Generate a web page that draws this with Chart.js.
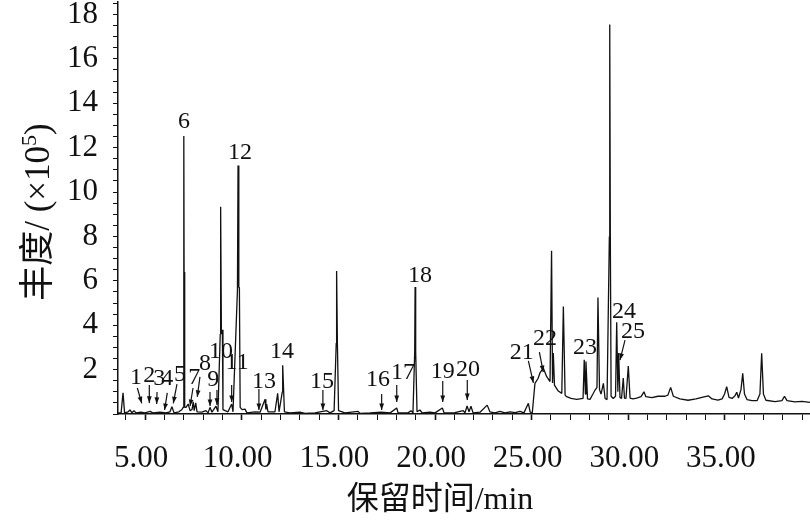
<!DOCTYPE html>
<html lang="zh-CN">
<head>
<meta charset="UTF-8">
<title>总离子流色谱图</title>
<script src="https://cdn.jsdelivr.net/npm/chart.js"></script>
<style>
  body { margin: 0; background: #fff; }
  #wrap { width: 810px; height: 529px; }
</style>
</head>
<body>
<div id="wrap"><canvas id="tic" width="810" height="529"></canvas></div>
<script>
// 保留时间 (min) 与丰度 (×10^5)，从原图逐点读取
const retTime = [
  3.60, 3.76, 3.86, 3.94, 4.12, 4.22, 4.32, 4.43, 4.53, 4.79, 5.00, 5.26, 5.40, 5.77, 6.08, 6.29, 6.39, 6.50,
  6.75, 6.91, 6.97, 7.00, 7.01, 7.02, 7.05, 7.12, 7.23, 7.33, 7.43, 7.49, 7.54, 7.62, 7.69, 7.94, 8.15, 8.26,
  8.36, 8.46, 8.67, 8.77, 8.89, 8.91, 8.95, 9.00, 9.03, 9.14, 9.29, 9.48, 9.55, 9.78, 9.81, 9.85, 9.88, 9.92,
  10.02, 10.17, 10.27, 10.68, 10.95, 11.21, 11.25, 11.29, 11.36, 11.72, 11.86, 11.93, 12.10, 12.12, 12.21,
  12.50, 13.01, 13.27, 13.79, 14.05, 14.40, 14.57, 14.78, 14.89, 14.91, 14.95, 15.01, 15.34, 16.02, 16.12,
  16.64, 17.21, 17.68, 18.02, 18.09, 18.60, 18.76, 18.86, 18.95, 18.97, 19.00, 19.07, 19.22, 19.33, 19.74,
  20.00, 20.38, 20.47, 21.03, 21.46, 21.55, 21.66, 21.76, 21.86, 21.97, 22.33, 22.70, 22.84, 23.10, 23.36,
  23.62, 23.88, 24.15, 24.40, 24.60, 24.83, 24.92, 25.03, 25.17, 25.33, 25.43, 25.60, 25.78, 25.95, 26.03,
  26.08, 26.12, 26.18, 26.36, 26.56, 26.64, 26.73, 26.81, 27.04, 27.33, 27.66, 27.72, 27.78, 27.81, 27.89,
  28.02, 28.17, 28.28, 28.38, 28.43, 28.51, 28.59, 28.71, 28.80, 28.90, 29.02, 29.04, 29.07, 29.11, 29.22,
  29.34, 29.40, 29.46, 29.50, 29.57, 29.65, 29.74, 29.80, 29.88, 30.00, 30.09, 30.24, 30.43, 30.66, 30.81,
  30.91, 31.22, 31.54, 31.90, 32.05, 32.19, 32.33, 32.67, 33.09, 33.50, 33.81, 34.14, 34.33, 34.64, 34.85,
  34.98, 35.09, 35.21, 35.37, 35.52, 35.61, 35.70, 35.83, 35.92, 36.01, 36.14, 36.40, 36.66, 36.81, 36.90,
  36.99, 37.12, 37.59, 37.95, 38.08, 38.21, 38.62, 38.99, 39.40
];
const abundance = [
  0.05, 0.05, 0.96, 0.05, 0.10, 0.18, 0.06, 0.15, 0.05, 0.08, 0.05, 0.12, 0.05, 0.08, 0.05, 0.10, 0.33, 0.05,
  0.10, 0.20, 0.30, 6.40, 12.52, 6.40, 0.30, 0.30, 0.45, 0.15, 0.20, 0.55, 0.15, 0.50, 0.10, 0.08, 0.15, 0.05,
  0.30, 0.08, 0.35, 0.10, 3.60, 9.34, 3.60, 3.80, 0.20, 0.15, 0.10, 0.45, 0.10, 5.60, 11.20, 5.70, 5.70, 0.30,
  0.20, 0.22, 0.05, 0.10, 0.08, 0.66, 0.20, 0.45, 0.10, 0.10, 0.93, 0.10, 1.00, 2.20, 0.10,
  0.05, 0.08, 0.03, 0.05, 0.10, 0.15, 0.05, 0.15, 3.20, 6.44, 3.20, 0.15, 0.05, 0.12, 0.03,
  0.05, 0.08, 0.05, 0.27, 0.05, 0.05, 0.15, 0.05, 2.80, 5.72, 2.80, 0.10, 0.18, 0.05, 0.08,
  0.05, 0.27, 0.05, 0.06, 0.15, 0.05, 0.36, 0.10, 0.35, 0.05, 0.08, 0.40, 0.10, 0.05, 0.12,
  0.05, 0.10, 0.06, 0.12, 0.05, 0.48, 0.10, 0.02, 1.38, 1.60, 1.85, 2.07, 1.68, 1.46, 7.35,
  1.40, 2.75, 1.30, 1.05, 0.93, 4.84, 0.85, 0.78, 0.70, 0.66, 0.70, 2.44, 0.90, 2.36, 0.68,
  0.66, 0.90, 1.08, 1.20, 5.25, 1.10, 0.90, 1.38, 0.70, 0.65, 8.00, 17.55, 8.00, 0.80, 0.70,
  0.80, 4.13, 1.00, 2.75, 0.75, 0.70, 1.62, 0.72, 0.70, 2.16, 0.72, 0.68, 0.72, 0.78, 1.00,
  0.78, 0.74, 0.80, 0.80, 0.85, 1.20, 0.80, 0.68, 0.62, 0.68, 0.75, 0.82, 0.68, 0.62, 0.68,
  0.90, 1.23, 0.75, 0.70, 0.82, 0.98, 0.72, 1.10, 1.83, 0.90, 0.65, 0.60, 0.60, 0.90, 2.73,
  0.90, 0.62, 0.56, 0.60, 0.80, 0.60, 0.55, 0.57, 0.52
];

// 峰号标注：文字位置与箭头 (时间, 丰度)
const peakNames  = ['1', '2', '3', '4', '5', '6', '7', '8', '9', '10', '11', '12', '13',
                    '14', '15', '16', '17', '18', '19', '20', '21', '22', '23', '24', '25'];
const labelTime  = [4.53, 5.22, 5.74, 6.15, 6.81, 7.01, 7.55, 8.10, 8.53, 8.93, 9.76, 9.91, 11.15,
                    12.08, 14.15, 17.05, 18.34, 19.22, 20.40, 21.71, 24.49, 25.69, 27.76, 29.78, 30.24];
const labelValue = [1.62, 1.71, 1.58, 1.58, 1.76, 13.15, 1.62, 2.25, 1.53, 2.79, 2.30, 11.76, 1.44,
                    2.79, 1.44, 1.53, 1.85, 6.22, 1.91, 1.98, 2.75, 3.38, 2.97, 4.59, 3.69];
// 箭头 [起点时间, 起点丰度, 终点时间, 终点丰度]，null 表示无箭头
const arrows = [
  [4.60, 1.17, 4.83, 0.48], [5.22, 1.31, 5.22, 0.50], [5.62, 0.99, 5.60, 0.45],
  [6.15, 0.95, 6.01, 0.18], [6.65, 1.35, 6.46, 0.48], null,
  [7.48, 1.17, 7.33, 0.36], [7.84, 1.67, 7.70, 0.77], [8.36, 0.99, 8.36, 0.36],
  [8.72, 1.08, 8.72, 0.41], [9.48, 1.31, 9.48, 0.54], null,
  [10.89, 1.13, 10.89, 0.18], null, [14.20, 1.08, 14.20, 0.18],
  [17.24, 0.90, 17.24, 0.18], [18.02, 1.31, 18.02, 0.54], null,
  [20.40, 1.49, 20.40, 0.54], [21.67, 1.53, 21.67, 0.63], [24.83, 2.39, 25.09, 1.40],
  [25.40, 2.79, 25.60, 1.89], null, null, [29.83, 3.33, 29.57, 2.43]
];

const xTickLabels = [5, 10, 15, 20, 25, 30, 35];
const yTickLabels = [2, 4, 6, 8, 10, 12, 14, 16, 18];

const serif = '"Liberation Serif", "Times New Roman", "Noto Sans CJK SC", serif';
const ink = '#111';

const points = retTime.map((t, i) => ({ x: t, y: abundance[i] }));

// 峰号、箭头和坐标轴标题
const peakLabels = {
  id: 'peakLabels',
  afterDatasetsDraw(chart) {
    const ctx = chart.ctx;
    const xs = chart.scales.x, ys = chart.scales.y;
    ctx.save();
    ctx.fillStyle = ink;
    ctx.strokeStyle = ink;
    ctx.font = '24px ' + serif;
    ctx.textAlign = 'center';
    ctx.textBaseline = 'middle';
    peakNames.forEach((name, i) => {
      ctx.fillText(name, xs.getPixelForValue(labelTime[i]), ys.getPixelForValue(labelValue[i]));
      const a = arrows[i];
      if (!a) return;
      const x0 = xs.getPixelForValue(a[0]), y0 = ys.getPixelForValue(a[1]);
      const x1 = xs.getPixelForValue(a[2]), y1 = ys.getPixelForValue(a[3]);
      ctx.lineWidth = 1.2;
      ctx.beginPath();
      ctx.moveTo(x0, y0);
      ctx.lineTo(x1, y1);
      ctx.stroke();
      const ang = Math.atan2(y1 - y0, x1 - x0);
      ctx.beginPath();
      ctx.moveTo(x1, y1);
      ctx.lineTo(x1 - 7 * Math.cos(ang - 0.35), y1 - 7 * Math.sin(ang - 0.35));
      ctx.lineTo(x1 - 7 * Math.cos(ang + 0.35), y1 - 7 * Math.sin(ang + 0.35));
      ctx.closePath();
      ctx.fill();
    });

    // x 轴标题
    ctx.font = '32px ' + serif;
    ctx.fillText('保留时间/min', 440, 501);

    // y 轴标题，上标 5
    ctx.translate(40, 212);
    ctx.rotate(-Math.PI / 2);
    const big = '35px ' + serif, small = '22px ' + serif;
    const parts = [['丰度/ (×10', big, 0], ['5', small, -10], [')', big, 0]];
    let total = 0;
    parts.forEach(p => { ctx.font = p[1]; total += ctx.measureText(p[0]).width; });
    let cx = -total / 2;
    ctx.textAlign = 'left';
    parts.forEach(p => {
      ctx.font = p[1];
      ctx.fillText(p[0], cx, p[2]);
      cx += ctx.measureText(p[0]).width;
    });
    ctx.restore();
  }
};

new Chart(document.getElementById('tic'), {
  type: 'line',
  data: {
    datasets: [{
      data: points,
      borderColor: ink,
      borderWidth: 1.3,
      borderJoinStyle: 'bevel',
      pointRadius: 0,
      tension: 0,
      fill: false
    }]
  },
  options: {
    responsive: false,
    animation: false,
    layout: { padding: { top: 2, right: 0, left: 0, bottom: 0 } },
    plugins: { legend: { display: false }, tooltip: { enabled: false } },
    scales: {
      x: {
        type: 'linear',
        min: 3.6,
        max: 39.4,
        afterFit(scale) {
          scale.height = 115;
          scale.paddingLeft = 0;
          scale.paddingRight = 0;
        },
        border: { display: true, color: ink, width: 1.5 },
        grid: { drawOnChartArea: false, drawTicks: true, tickLength: 6, tickColor: ink,
                tickWidth: ctx => (xTickLabels.includes(ctx.tick.value) ? 1.6 : 1) },
        ticks: {
          stepSize: 1,
          includeBounds: false,
          autoSkip: false,
          maxRotation: 0,
          padding: 20,
          labelOffset: -4,
          color: ink,
          font: { family: serif, size: 31 },
          callback: v => (xTickLabels.includes(v) ? v.toFixed(2) : '')
        }
      },
      y: {
        min: 0,
        max: 18.56,
        afterFit(scale) {
          scale.width = 118;
          scale.paddingTop = 0;
          scale.paddingBottom = 0;
        },
        border: { display: true, color: ink, width: 1.5 },
        grid: { drawOnChartArea: false, drawTicks: true, tickLength: 5, tickColor: ink },
        ticks: {
          stepSize: 0.5,
          includeBounds: false,
          autoSkip: false,
          padding: 15,
          color: ink,
          font: { family: serif, size: 31 },
          callback: v => (yTickLabels.includes(v) ? String(v) : '')
        }
      }
    }
  },
  plugins: [peakLabels]
});
</script>
</body>
</html>
